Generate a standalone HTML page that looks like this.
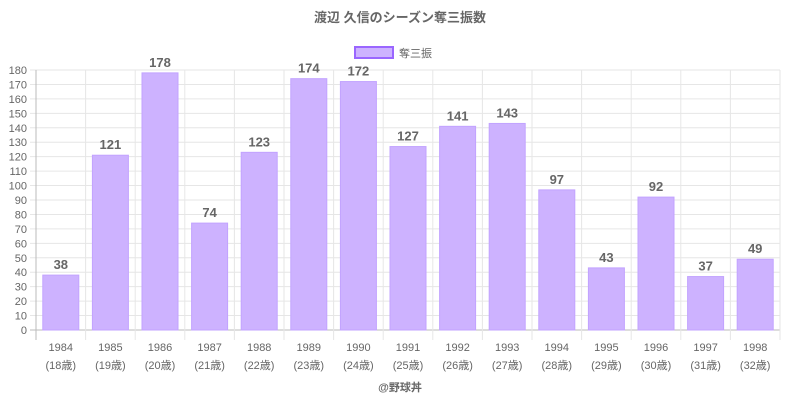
<!DOCTYPE html>
<html><head><meta charset="utf-8"><style>
body{margin:0;background:#fff}
svg text{font-family:"Liberation Sans","Noto Sans CJK JP",sans-serif}
</style></head><body>
<svg id="s" width="800" height="400" xmlns="http://www.w3.org/2000/svg"></svg>
<script>
var d=[38,121,178,74,123,174,172,127,141,143,97,43,92,37,49];
var s='';
var L=36,R=780,B=330,k=260/180,bw=49.6;
s+='<text x="400" y="22" text-anchor="middle" font-size="13" font-weight="bold" fill="#666">渡辺 久信のシーズン奪三振数</text>';
s+='<rect x="355" y="47" width="38" height="11" fill="#cdb2ff" stroke="#9a66ff" stroke-width="2"/>';
s+='<text x="399" y="57" font-size="11" fill="#666">奪三振</text>';
for(var v=0;v<=180;v+=10){var y=B-v*k;
s+='<line x1="30" x2="'+R+'" y1="'+y+'" y2="'+y+'" stroke="'+(v==0?'#bbb':'#e6e6e6')+'"/>';
s+='<text x="27" y="'+(y+4)+'" text-anchor="end" font-size="11" fill="#666">'+v+'</text>';}
for(var i=0;i<=15;i++){var x=L+bw*i;
s+='<line x1="'+x+'" x2="'+x+'" y1="70" y2="340" stroke="'+(i==0?'#bbb':'#e6e6e6')+'"/>';}
for(var i=0;i<15;i++){var x=L+bw*i+6.8,h=d[i]*k,c=x+18;
s+='<rect x="'+x+'" y="'+(B-h)+'" width="36" height="'+h+'" fill="#cdb2ff" stroke="#c2a3ff" stroke-width="1"/>';
s+='<text x="'+c+'" y="'+(B-h-6)+'" text-anchor="middle" font-size="13" font-weight="bold" fill="#666">'+d[i]+'</text>';
s+='<text x="'+c+'" y="351" text-anchor="middle" font-size="11" fill="#666">'+(1984+i)+'</text>';
s+='<text x="'+c+'" y="369" text-anchor="middle" font-size="11" fill="#666">('+(18+i)+'歳)</text>';}
s+='<text x="400" y="391" text-anchor="middle" font-size="11" font-weight="bold" fill="#666">@野球丼</text>';
document.getElementById('s').innerHTML=s;
</script>
</body></html>
